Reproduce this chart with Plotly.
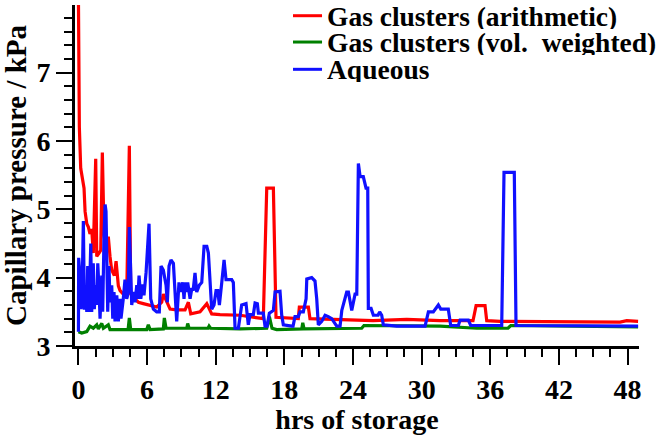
import plotly.graph_objects as go

# ---- data ----
arith_t = [0.00, 0.08, 0.20, 0.38, 0.49, 0.58, 0.73, 0.87, 1.01, 1.16, 1.30, 1.51, 1.60, 1.80, 1.95,
           2.09, 2.24, 2.41, 2.61, 2.76, 2.91, 3.14, 3.29, 3.49, 3.64, 3.92, 4.22, 4.45, 4.57, 4.80,
           5.24, 5.67, 6.26, 6.84, 7.28, 7.42, 7.66, 8.01, 8.59, 9.32, 9.61, 9.82, 10.63, 11.22, 11.65,
           12.38, 14.13, 16.16, 16.46, 17.04, 17.27, 19.22, 19.31, 20.10, 20.24, 22.87, 25.75, 28.70,
           31.61, 34.49, 34.76, 35.54, 35.69, 36.85, 41.49, 47.35, 47.93, 48.92]
arith_p = [8.10, 6.20, 5.60, 5.40, 5.31, 4.97, 4.79, 4.74, 4.64, 4.71, 4.36, 5.74, 4.31, 4.36, 4.40,
           5.83, 4.64, 4.36, 4.60, 4.31, 4.11, 4.03, 4.24, 3.88, 3.81, 3.76, 3.74, 5.93, 3.76, 3.71,
           3.64, 3.62, 3.60, 3.57, 3.64, 3.76, 3.67, 3.54, 3.53, 3.53, 3.64, 3.47, 3.50, 3.62, 3.47,
           3.46, 3.45, 3.40, 5.31, 5.31, 3.42, 3.40, 3.57, 3.57, 3.40, 3.39, 3.37, 3.39,
           3.37, 3.37, 3.59, 3.59, 3.37, 3.36, 3.36, 3.35, 3.37, 3.36]

volw_t = [0.00, 0.29, 0.73, 1.01, 1.30, 1.60, 1.74, 2.04, 2.18, 2.61, 2.76, 3.35, 4.34, 4.45, 4.57,
          5.97, 6.11, 6.26, 7.42, 7.51, 7.66, 9.47, 9.55, 9.67, 11.33, 11.42, 11.55, 14.13, 16.46,
          16.69, 16.92, 17.33, 19.52, 19.61, 19.72, 24.76, 24.96, 31.61, 34.82, 37.55, 37.79, 48.92]
volw_p = [3.21, 3.19, 3.21, 3.29, 3.26, 3.31, 3.25, 3.33, 3.26, 3.31, 3.24, 3.24, 3.24, 3.41, 3.24,
          3.24, 3.31, 3.24, 3.25, 3.41, 3.26, 3.26, 3.33, 3.26, 3.26, 3.29, 3.26, 3.25, 3.26,
          3.43, 3.26, 3.24, 3.25, 3.34, 3.25, 3.26, 3.30, 3.29, 3.26, 3.26, 3.30, 3.28]

aq_t = [0.00, 0.02, 0.14, 0.23, 0.34, 0.43, 0.52, 0.64, 0.73, 0.81, 0.93, 1.08, 1.16, 1.30, 1.39,
        1.51, 1.60, 1.69, 1.80, 1.89, 2.04, 2.12, 2.24, 2.33, 2.41, 2.47, 2.56, 2.67, 2.76, 2.91,
        3.00, 3.11, 3.20, 3.35, 3.49, 3.64, 3.72, 3.92, 4.07, 4.22, 4.36, 4.45, 4.57, 4.66, 4.80,
        4.95, 5.10, 5.19, 5.30, 5.45, 5.62, 5.73, 5.91, 6.02, 6.17, 6.32, 6.55, 6.84, 7.07, 7.22,
        7.42, 7.66, 7.77, 7.92, 8.09, 8.30, 8.44, 8.59, 8.79, 8.94, 9.12, 9.23, 9.32, 9.47, 9.55,
        9.76, 9.90, 10.04, 10.19, 10.34, 10.57, 10.78, 10.98, 11.22, 11.36, 11.50, 11.65, 11.85,
        12.03, 12.18, 12.32, 12.53, 12.73, 12.90, 13.10, 13.40, 13.54, 13.69, 13.98, 14.27, 14.65,
        14.85, 15.00, 15.29, 15.44, 15.64, 15.73, 16.16, 16.31, 16.49, 16.69, 17.04, 17.19, 17.62,
        17.77, 17.91, 18.65, 18.76, 18.93, 19.22, 19.37, 19.66, 19.90, 19.96, 20.39, 20.68, 20.83,
        20.97, 21.27, 21.56, 21.84, 22.14, 22.58, 22.87, 23.02, 23.45, 23.60, 23.74, 23.89, 24.18,
        24.33, 24.47, 24.62, 24.90, 25.14, 25.29, 25.34, 25.58, 25.78, 26.19, 26.33, 26.51, 26.65,
        27.82, 30.30, 30.59, 31.02, 31.46, 31.67, 32.33, 32.54, 33.21, 33.36, 34.08, 34.29, 37.00,
        37.20, 38.10, 38.25, 48.92]
aq_p = [3.21, 4.29, 4.03, 3.54, 3.97, 4.83, 3.53, 3.89, 3.50, 4.17, 3.50, 4.50, 3.50, 4.21, 3.54,
        3.89, 3.60, 4.21, 3.83, 3.40, 4.03, 3.50, 4.64, 5.07, 4.97, 4.03, 3.50, 4.17, 3.64, 3.89,
        3.40, 3.79, 3.36, 3.74, 3.36, 3.69, 3.40, 3.69, 3.97, 3.69, 3.79, 4.74, 3.93, 3.60, 3.79,
        3.64, 3.89, 3.69, 4.03, 3.69, 3.90, 3.74, 4.07, 4.36, 4.79, 3.69, 3.54, 3.50, 3.50, 4.17,
        4.11, 3.89, 3.64, 4.17, 4.26, 4.21, 3.79, 3.36, 3.93, 3.79, 3.93, 3.69, 3.93, 3.79, 3.93,
        3.69, 3.83, 3.83, 4.07, 3.79, 3.89, 3.93, 4.46, 4.46, 4.36, 4.03, 3.54, 3.60,
        3.81, 3.81, 3.60, 3.93, 4.26, 3.97, 3.97, 3.97, 3.93, 3.26, 3.26, 3.60, 3.62,
        3.31, 3.46, 3.46, 3.63, 3.62, 3.48, 3.48, 3.29, 3.29, 3.48, 3.52, 3.79, 3.80,
        3.45, 3.31, 3.29, 3.29, 3.43, 3.43, 3.50, 3.50, 3.69, 3.98, 4.00, 3.95, 3.69,
        3.31, 3.36, 3.45, 3.43, 3.40, 3.29, 3.29, 3.52, 3.79, 3.79, 3.64, 3.52, 3.76,
        3.76, 5.67, 5.48, 5.48, 5.31, 5.31, 3.55, 3.55, 3.45, 3.45, 3.50, 3.45, 3.31,
        3.29, 3.29, 3.50, 3.50, 3.60, 3.54, 3.54, 3.30, 3.30, 3.38, 3.38, 3.30, 3.30,
        5.54, 5.54, 3.30, 3.29]

series_names = ["Gas clusters (arithmetic)", "Gas clusters (vol.\u00a0 weighted)", "Aqueous"]
series_colors = ["#ff0000", "#008000", "#1010ff"]
x_tick_step = 6
y_tick_step = 1

FONT = "Liberation Serif"
BOLD = "bold"

fig = go.Figure()
for t, p, name, col in zip([arith_t, volw_t, aq_t], [arith_p, volw_p, aq_p], series_names, series_colors):
    fig.add_trace(go.Scatter(x=t, y=p, mode="lines", name=name,
                             line=dict(color=col, width=3.2), showlegend=False))

# manual compact legend (line sample + text)
leg_y = [0.9686, 0.8914, 0.8114]
for name, col, yy in zip(series_names, series_colors, leg_y):
    fig.add_shape(type="line", xref="paper", yref="paper", x0=0.3865, x1=0.438, y0=yy, y1=yy,
                  line=dict(color=col, width=3))
    fig.add_annotation(xref="paper", yref="paper", x=0.443, y=yy, xanchor="left", yanchor="middle",
                       text=name, showarrow=False, height=26,
                       font=dict(family=FONT, size=27.5, color="black", weight=BOLD))

fig.update_layout(
    width=656, height=435,
    margin=dict(l=75, r=17, t=5, b=80),
    paper_bgcolor="white", plot_bgcolor="white",
    font=dict(family=FONT, color="black", weight=BOLD),
)
fig.update_xaxes(
    range=[-0.3, 49], tickmode="linear", tick0=0, dtick=x_tick_step,
    showline=True, linecolor="black", linewidth=3, showgrid=False, zeroline=False,
    ticks="outside", ticklen=16, tickwidth=2, tickcolor="black",
    tickfont=dict(family=FONT, size=28, color="black", weight=BOLD),
    minor=dict(dtick=1.5, tick0=0, ticks="outside", ticklen=8, tickwidth=2, tickcolor="black", showgrid=False),
    title=dict(text="hrs of storage", font=dict(family=FONT, size=28, color="black", weight=BOLD), standoff=6),
)
fig.update_yaxes(
    range=[3, 7.99], tickmode="linear", tick0=3, dtick=y_tick_step,
    showline=True, linecolor="black", linewidth=3, showgrid=False, zeroline=False,
    ticks="outside", ticklen=16, tickwidth=2, tickcolor="black",
    tickfont=dict(family=FONT, size=28, color="black", weight=BOLD),
    minor=dict(dtick=0.2, tick0=3, ticks="outside", ticklen=8, tickwidth=2, tickcolor="black", showgrid=False),
    title=dict(text="Capillary pressure / kPa", font=dict(family=FONT, size=29, color="black", weight=BOLD), standoff=4),
)

fig.write_html("out.html")
